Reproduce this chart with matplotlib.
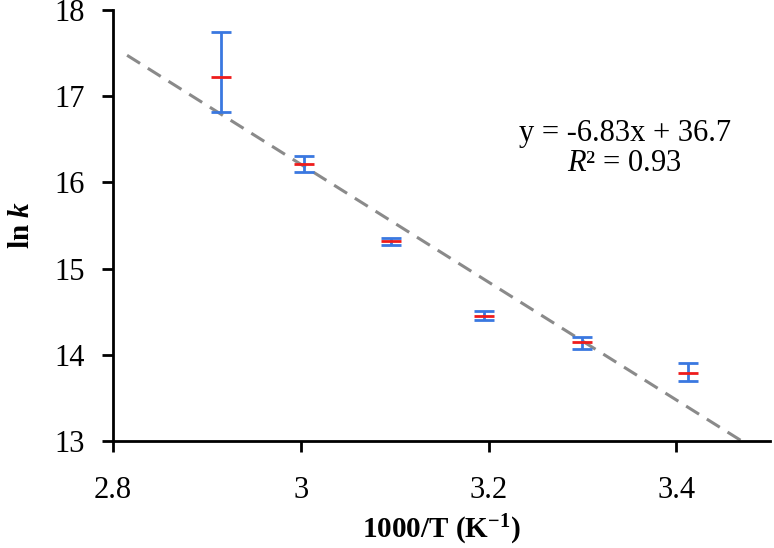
import matplotlib
matplotlib.use("Agg")
import matplotlib.pyplot as plt
import numpy as np

plt.rcParams['font.family'] = ['Liberation Serif', 'DejaVu Serif']
plt.rcParams['mathtext.fontset'] = 'custom'
plt.rcParams['mathtext.rm'] = 'Liberation Serif'
plt.rcParams['mathtext.it'] = 'Liberation Serif:italic'
plt.rcParams['mathtext.bf'] = 'Liberation Serif:bold'
plt.rcParams['mathtext.bfit'] = 'Liberation Serif:bold:italic'

# data
inv_T = [2.915, 3.003, 3.096, 3.195, 3.300, 3.413]
ln_k = [17.22, 16.21, 15.32, 14.45, 14.145, 13.79]
err_up = [0.52, 0.09, 0.04, 0.06, 0.065, 0.115]
err_down = [0.40, 0.09, 0.05, 0.05, 0.075, 0.09]

slope = -6.83
intercept = 36.7
r2 = 0.93
fit_x = [2.815, 3.5]

xticks = [2.8, 3.0, 3.2, 3.4]
xticklabels = ['2.8', '3', '3.2', '3.4']
yticks = [13, 14, 15, 16, 17, 18]

fig = plt.figure(figsize=(7.74, 5.48), dpi=100)
ax = fig.add_axes([0.146, 0.195, 0.849, 0.787])

fx = np.array(fit_x)
ax.plot(fx, slope * fx + intercept, linestyle=(0, (5, 3)), color='#8a8a8a', lw=2.2)

ax.errorbar(inv_T, ln_k, yerr=[err_down, err_up], fmt='none', ecolor='#3a78e0',
            elinewidth=2, capsize=7.5, capthick=2)
ax.plot(inv_T, ln_k, linestyle='none', marker='_', markersize=15,
        markeredgewidth=2, color='#ee1c1c')

ax.set_xlim(2.8, 3.5)
ax.set_ylim(13, 18)
ax.set_xticks(xticks)
ax.set_xticklabels(xticklabels)
ax.set_yticks(yticks)
ax.tick_params(labelsize=22, width=2, length=8, direction='out')
ax.tick_params(axis='x', pad=17)
ax.tick_params(axis='y', pad=12)
for s in ['top', 'right']:
    ax.spines[s].set_visible(False)
for s in ['left', 'bottom']:
    ax.spines[s].set_linewidth(2)

ax.set_xlabel(r'1000/T (K$^{\mathbf{-1}}$)', fontsize=21, fontweight='bold', labelpad=6)
ax.set_ylabel(r'ln $\mathbfit{k}$', fontsize=21, fontweight='bold', labelpad=14)

ax.text(3.345, 16.57, 'y = -6.83x + 36.7', fontsize=22, ha='center', va='center')
ax.text(3.345, 16.22, r'$\mathit{R}$² = 0.93', fontsize=22, ha='center', va='center')

fig.savefig('out.png', dpi=100)
